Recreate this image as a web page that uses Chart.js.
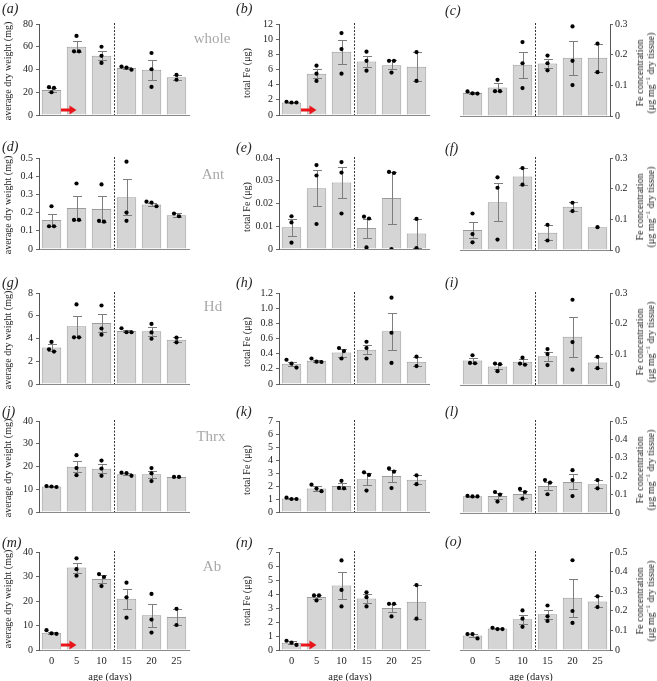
<!DOCTYPE html>
<html><head><meta charset="utf-8">
<script src="https://cdn.jsdelivr.net/npm/chart.js@4.4.1/dist/chart.umd.min.js"></script>
<style>
body{margin:0;background:#fff;width:657px;height:681px;position:relative;overflow:hidden;font-family:"Liberation Serif","Times New Roman","DejaVu Serif",serif;}
canvas{position:absolute;}
.t{position:absolute;white-space:nowrap;color:#222;}
.lab{font-style:italic;font-size:14px;line-height:16px;transform:translateY(-50%);}
.grp{font-size:15px;color:#a8a8a8;transform:translate(-50%,-50%);}
.yt{font-size:10px;line-height:11px;text-align:center;transform:translate(-50%,-50%) rotate(-90deg);}
.xt{font-size:10.5px;transform:translate(-50%,-50%);}
</style></head><body>
<script>
const ages = ['0','5','10','15','20','25'];

// (a) whole – average dry weight (mg)
const a_mean = [22, 60, 52, 41.4, 39.7, 33.2];
const a_lo   = [20.6, 55.8, 48.4, 40.4, 30.8, 31];
const a_hi   = [23.4, 65, 56.6, 42.3, 48.4, 35.4];
const a_pts  = [[24.5,23.8,20],[69.5,56,56],[60,52,45.8],[42.6,41.6,39.8],[54.5,40.2,24.7],[35.2,31]];
// (b) whole – total Fe (µg)
const b_mean = [1.65, 5.45, 8.35, 7.05, 6.55, 6.35];
const b_lo   = [1.58, 4.9, 6.75, 6.35, 6.05, 4.5];
const b_hi   = [1.72, 6.05, 9.95, 7.8, 7.2, 8.3];
const b_pts  = [[1.75,1.65,1.65],[6.5,5.45,4.5],[10.8,8.7,5.45],[8.35,7.15,5.85],[7.15,7.15,5.6],[8.3,4.5]];
// (c) whole – Fe concentration
const c_mean = [0.075, 0.093, 0.167, 0.171, 0.19, 0.19];
const c_lo   = [0.072, 0.08, 0.125, 0.158, 0.134, 0.143];
const c_hi   = [0.079, 0.106, 0.21, 0.185, 0.246, 0.236];
const c_pts  = [[0.08,0.073,0.074],[0.118,0.081,0.081],[0.241,0.172,0.091],[0.197,0.172,0.149],[0.292,0.18,0.101],[0.236,0.143]];
// (d) Ant – dry weight
const d_mean = [0.16, 0.225, 0.22, 0.285, 0.245, 0.185];
const d_lo   = [0.125, 0.16, 0.15, 0.185, 0.235, 0.178];
const d_hi   = [0.195, 0.29, 0.29, 0.385, 0.255, 0.197];
const d_pts  = [[0.235,0.125,0.125],[0.36,0.16,0.16],[0.355,0.15,0.155],[0.48,0.2,0.155],[0.26,0.255,0.235],[0.195,0.18]];
// (e) Ant – total Fe
const e_mean = [0.0096, 0.0267, 0.0292, 0.0092, 0.0224, 0.0068];
const e_lo   = [0.0059, 0.0187, 0.0224, 0.005, 0.0111, 0.0004];
const e_hi   = [0.0133, 0.0347, 0.036, 0.0134, 0.0337, 0.0132];
const e_pts  = [[0.0144,0.0117,0.0028],[0.0369,0.0323,0.011],[0.0382,0.0336,0.0156],[0.0142,0.0134,0.0007],[0.0339,0.0334,0],[0.0132,0.0004]];
// (f) Ant – Fe concentration
const f_mean = [0.065, 0.156, 0.24, 0.056, 0.141, 0.0745];
const f_lo   = [0.038, 0.093, 0.213, 0.031, 0.127, 0.0745];
const f_hi   = [0.092, 0.219, 0.267, 0.081, 0.155, 0.0745];
const f_pts  = [[0.119,0.052,0.025],[0.237,0.203,0.034],[0.267,0.213],[0.082,0.031],[0.154,0.127],[0.0745]];
// (g) Hd – dry weight
const g_mean = [3.2, 5.07, 5.36, 4.67, 4.63, 3.88];
const g_lo   = [2.88, 4.12, 4.56, 4.58, 4.25, 3.66];
const g_hi   = [3.52, 6.02, 6.16, 4.76, 5.05, 4.1];
const g_pts  = [[3.7,2.85,3.05],[7.0,4.1,4.1],[6.9,4.88,4.34],[4.9,4.55,4.55],[5.28,4.53,3.98],[4.07,3.66]];
// (h) Hd – total Fe
const h_mean = [0.266, 0.306, 0.414, 0.452, 0.696, 0.295];
const h_lo   = [0.243, 0.292, 0.36, 0.39, 0.45, 0.237];
const h_hi   = [0.289, 0.32, 0.468, 0.514, 0.94, 0.357];
const h_pts  = [[0.32,0.27,0.217],[0.336,0.295,0.29],[0.475,0.434,0.336],[0.557,0.475,0.336],[1.138,0.676,0.278],[0.36,0.237]];
// (i) Hd – Fe concentration
const i_mean = [0.08, 0.06, 0.076, 0.094, 0.157, 0.0735];
const i_lo   = [0.072, 0.051, 0.069, 0.079, 0.09, 0.055];
const i_hi   = [0.089, 0.069, 0.084, 0.109, 0.222, 0.092];
const i_pts  = [[0.097,0.072,0.071],[0.07,0.068,0.045],[0.089,0.07,0.066],[0.117,0.101,0.065],[0.278,0.14,0.05],[0.092,0.055]];
// (j) Thrx – dry weight
const j_mean = [11.2, 19.9, 19.0, 16.6, 16.6, 15.4];
const j_lo   = [10.95, 17.4, 17.0, 16.1, 15.1, 15.3];
const j_hi   = [11.45, 22.4, 21.0, 17.1, 18.1, 15.5];
const j_pts  = [[11.4,11.0,11.2],[25,19.3,16.2],[22.6,19.1,15.9],[17.3,17.1,15.9],[19.3,17,13.6],[15.4,15.4]];
// (k) Thrx – total Fe
const k_mean = [1.03, 1.8, 2.0, 2.52, 2.76, 2.48];
const k_lo   = [0.98, 1.6, 1.8, 2.05, 2.3, 2.14];
const k_hi   = [1.08, 2.0, 2.2, 3.0, 3.22, 2.82];
const k_pts  = [[1.1,1.0,1.0],[2.1,1.8,1.6],[2.4,1.85,1.82],[3.05,2.85,1.65],[3.35,3.1,1.84],[2.82,2.14]];
// (l) Thrx – Fe concentration
const l_mean = [0.091, 0.093, 0.103, 0.147, 0.169, 0.156];
const l_lo   = [0.089, 0.077, 0.084, 0.123, 0.129, 0.134];
const l_hi   = [0.093, 0.109, 0.122, 0.171, 0.21, 0.178];
const l_pts  = [[0.093,0.09,0.09],[0.114,0.1,0.062],[0.131,0.114,0.078],[0.179,0.165,0.102],[0.233,0.179,0.092],[0.179,0.134]];
// (m) Ab – dry weight
const m_mean = [7.0, 33.7, 29.0, 20.9, 14.2, 13.5];
const m_lo   = [6.5, 31.6, 27.4, 16.7, 9.5, 10.2];
const m_hi   = [7.5, 35.7, 30.6, 25.1, 18.7, 16.8];
const m_pts  = [[8.1,6.6,6.8],[37.4,33,30.3],[31,29.8,26.1],[27.5,21.5,13.2],[22.9,12.4,7.1],[16.8,10.2]];
// (n) Ab – total Fe
const n_mean = [0.52, 3.78, 4.6, 3.67, 3.0, 3.44];
const n_lo   = [0.42, 3.66, 3.64, 3.35, 2.7, 2.24];
const n_hi   = [0.62, 3.9, 5.56, 3.99, 3.3, 4.64];
const n_pts  = [[0.66,0.52,0.36],[3.9,3.9,3.54],[6.4,4.29,3.11],[4.12,3.77,3.11],[3.3,3.3,2.4],[4.64,2.24]];
// (o) Ab – Fe concentration
const o_mean = [0.074, 0.11, 0.157, 0.182, 0.266, 0.247];
const o_lo   = [0.067, 0.107, 0.133, 0.159, 0.168, 0.22];
const o_hi   = [0.081, 0.113, 0.181, 0.205, 0.364, 0.274];
const o_pts  = [[0.081,0.081,0.059],[0.113,0.107,0.107],[0.202,0.16,0.118],[0.227,0.172,0.148],[0.458,0.199,0.138],[0.274,0.219]];

const groupNames = ['whole','Ant','Hd','Thrx','Ab'];
const yTitleLeft = 'average dry weight (mg)';
const yTitleMid = 'total Fe (μg)';
const xTitle = 'age (days)';

// ---------- layout ----------
const COLS = [39, 279, 460];
const ROWS = [24, 158, 293, 421, 552];
const PW = 150, PH = 98;

const panels = [
 {id:'a',r:0,c:0,mean:a_mean,lo:a_lo,hi:a_hi,pts:a_pts,max:80,step:20,dec:0,arrow:true},
 {id:'b',r:0,c:1,mean:b_mean,lo:b_lo,hi:b_hi,pts:b_pts,max:12,step:2,dec:0,arrow:true},
 {id:'c',r:0,c:2,mean:c_mean,lo:c_lo,hi:c_hi,pts:c_pts,max:0.3,step:0.1,dec:1},
 {id:'d',r:1,c:0,mean:d_mean,lo:d_lo,hi:d_hi,pts:d_pts,max:0.5,step:0.1,dec:1},
 {id:'e',r:1,c:1,mean:e_mean,lo:e_lo,hi:e_hi,pts:e_pts,max:0.04,step:0.01,dec:2},
 {id:'f',r:1,c:2,mean:f_mean,lo:f_lo,hi:f_hi,pts:f_pts,max:0.3,step:0.1,dec:1},
 {id:'g',r:2,c:0,mean:g_mean,lo:g_lo,hi:g_hi,pts:g_pts,max:8,step:2,dec:0},
 {id:'h',r:2,c:1,mean:h_mean,lo:h_lo,hi:h_hi,pts:h_pts,max:1.2,step:0.2,dec:1},
 {id:'i',r:2,c:2,mean:i_mean,lo:i_lo,hi:i_hi,pts:i_pts,max:0.3,step:0.1,dec:1},
 {id:'j',r:3,c:0,mean:j_mean,lo:j_lo,hi:j_hi,pts:j_pts,max:40,step:10,dec:0},
 {id:'k',r:3,c:1,mean:k_mean,lo:k_lo,hi:k_hi,pts:k_pts,max:7,step:1,dec:0},
 {id:'l',r:3,c:2,mean:l_mean,lo:l_lo,hi:l_hi,pts:l_pts,max:0.5,step:0.1,dec:1},
 {id:'m',r:4,c:0,mean:m_mean,lo:m_lo,hi:m_hi,pts:m_pts,max:40,step:10,dec:0,arrow:true},
 {id:'n',r:4,c:1,mean:n_mean,lo:n_lo,hi:n_hi,pts:n_pts,max:7,step:1,dec:0,arrow:true},
 {id:'o',r:4,c:2,mean:o_mean,lo:o_lo,hi:o_hi,pts:o_pts,max:0.5,step:0.1,dec:1}
];

Chart.defaults.font.family = '"Liberation Serif", "Times New Roman", "DejaVu Serif", serif';
Chart.defaults.color = '#222';

function swarm(p){
  const out = [];
  const thr = p.max * 0.045;
  p.pts.forEach((arr, i) => {
    const sorted = arr.slice().sort((a,b) => b - a);
    const groups = [];
    sorted.forEach(v => {
      const g = groups[groups.length-1];
      if (g && Math.abs(g[g.length-1] - v) < thr) g.push(v); else groups.push([v]);
    });
    groups.forEach(g => {
      const n = g.length;
      g.forEach((v,k) => out.push({x: i + (k - (n-1)/2) * 0.2, y: v}));
    });
  });
  return out;
}

function makeDecor(p){
  return {
    id: 'decor',
    afterDatasetDraw(chart, args){
      if (args.index !== 0) return;
      const ctx = chart.ctx, xs = chart.scales.x, ys = chart.scales.y, ca = chart.chartArea;
      ctx.save();
      const dx = Math.round(xs.getPixelForValue(2.5)) + 0.5;
      ctx.strokeStyle = '#333'; ctx.lineWidth = 1; ctx.setLineDash([2,1.5]);
      ctx.beginPath(); ctx.moveTo(dx, ca.top - 1); ctx.lineTo(dx, ca.bottom); ctx.stroke();
      ctx.setLineDash([]);
      ctx.strokeStyle = '#7d7d7d'; ctx.lineWidth = 1;
      p.mean.forEach((m, i) => {
        if (p.hi[i] - p.lo[i] <= 0) return;
        const x = Math.round(xs.getPixelForValue(i)) + 0.5;
        const y1 = Math.round(ys.getPixelForValue(p.lo[i])) + 0.5;
        const y2 = Math.round(ys.getPixelForValue(p.hi[i])) + 0.5;
        ctx.beginPath();
        ctx.moveTo(x, y1); ctx.lineTo(x, y2);
        ctx.moveTo(x - 4.5, y1); ctx.lineTo(x + 4.5, y1);
        ctx.moveTo(x - 4.5, y2); ctx.lineTo(x + 4.5, y2);
        ctx.stroke();
      });
      if (p.arrow) {
        const y = ca.bottom - 5;
        const x0 = xs.getPixelForValue(0.38), x1 = xs.getPixelForValue(1.0);
        ctx.fillStyle = '#e8161b';
        ctx.fillRect(x0, y - 1.5, (x1 - 6) - x0, 3);
        ctx.beginPath();
        ctx.moveTo(x1 - 7, y - 4.5); ctx.lineTo(x1, y); ctx.lineTo(x1 - 7, y + 4.5); ctx.closePath();
        ctx.fill();
      }
      ctx.restore();
    }
  };
}

function addText(cls, html, x, y){
  const d = document.createElement('div');
  d.className = 't ' + cls;
  d.innerHTML = html;
  d.style.left = x + 'px'; d.style.top = y + 'px';
  document.body.appendChild(d);
  return d;
}

function makePanel(p){
  const right = p.c === 2, bottom = p.r === 4;
  const AX = 44, padT = 10, padS = 8;
  const xh = bottom ? 24 : 2;
  const L = COLS[p.c], T = ROWS[p.r];
  const cl = right ? L - padS : L - AX;
  const cw = AX + PW + padS;
  const ch = padT + PH + xh;
  const cv = document.createElement('canvas');
  cv.width = cw; cv.height = ch;
  cv.style.left = cl + 'px'; cv.style.top = (T - padT) + 'px';
  cv.style.width = cw + 'px'; cv.style.height = ch + 'px';
  document.body.appendChild(cv);
  new Chart(cv, {
    data: { datasets: [
      { type:'bar', data: p.mean.map((v,i) => ({x:i, y:v})), backgroundColor:'#d5d5d5',
        borderColor:'#9c9c9c', borderWidth:1, categoryPercentage:1, barPercentage:0.78, order:2 },
      { type:'scatter', data: swarm(p), pointRadius:2.1, pointBackgroundColor:'#000',
        pointBorderWidth:0, order:1 }
    ]},
    options: {
      responsive:false, animation:false, events:[],
      layout:{ padding:{ top:padT, bottom:0, left: right ? padS : 0, right: right ? 0 : padS } },
      plugins:{ legend:{display:false}, tooltip:{enabled:false} },
      scales:{
        x:{ type:'linear', min:-0.5, max:5.5, offset:false,
            grid:{display:false, drawTicks:false, offset:false},
            border:{display:true, color:'#8a8a8a'},
            ticks:{display:bottom, autoSkip:false, maxRotation:0, padding:5, font:{size:10.5}, color:'#222', callback:(v) => ages[v]},
            afterBuildTicks:(s) => { s.ticks = ages.map((_,i) => ({value:i})); },
            afterFit:(s) => { s.height = xh; } },
        y:{ position: right ? 'right' : 'left', min:0, max:p.max,
            grid:{drawOnChartArea:false, drawTicks:true, tickLength:3, color:'#666'},
            border:{display:true, color:'#555'},
            ticks:{stepSize:p.step, autoSkip:false, padding: right ? 2 : 3, font:{size:10}, color:'#222',
                   callback:(v) => v === 0 ? '0' : Number(v).toFixed(p.dec)},
            afterFit:(s) => { s.width = AX; } }
      }
    },
    plugins:[makeDecor(p)]
  });
  const lx = [2, 236, 445][p.c];
  const ly = [[9,9,11],[147,148,149],[283,283,283],[412,412,412],[543,543,542]][p.r][p.c];
  addText('lab', '(' + p.id + ')', lx, ly);
  const cy = T + PH/2;
  if (p.c === 0) addText('yt', yTitleLeft, 7, cy - 2);
  if (p.c === 1) addText('yt', yTitleMid, 246, cy);
  if (p.c === 2) addText('yt', 'Fe concentration<br>(μg mg<sup style="font-size:7px;line-height:0">−1</sup> dry tissue)', 645, cy);
  if (bottom) addText('xt', xTitle, L + PW/2 - 4, 676);
}

panels.forEach(makePanel);
const grpY = [38, 174, 306, 436, 566];
const grpX = [212, 213, 213, 211, 212];
groupNames.forEach((g, i) => addText('grp', g, grpX[i], grpY[i]));
</script>
</body></html>
